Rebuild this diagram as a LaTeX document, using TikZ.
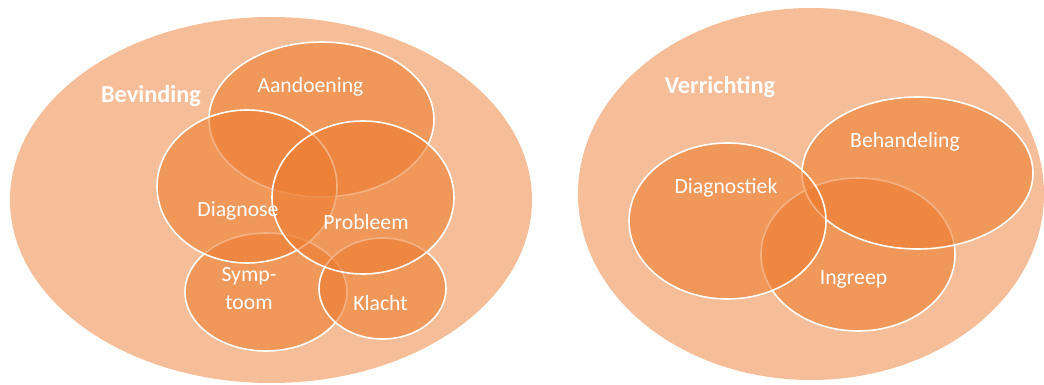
\documentclass[tikz,border=0pt]{standalone}
\usepackage{fontspec}
\setmainfont{Carlito}
\definecolor{outerfill}{RGB}{246,190,152}
\definecolor{accent}{RGB}{237,125,49}
\tikzset{
  outer/.style={ellipse, fill=outerfill, inner sep=0pt},
  inner/.style={fill=accent, fill opacity=0.6, draw=white, draw opacity=1, line width=1.6pt},
  lbl/.style={text=white, font=\fontsize{21.7}{28}\selectfont, align=center, inner sep=0pt},
  title/.style={text=white, font=\fontsize{24.3}{29}\selectfont\bfseries, inner sep=0pt},
}
\begin{document}
\begin{tikzpicture}[x=1pt,y=-1pt]
\useasboundingbox (0,0) rectangle (1044,385);
% outer ellipses
\fill[outerfill] (271,200) ellipse [x radius=261, y radius=183];
\fill[outerfill] (811,194) ellipse [x radius=233, y radius=186];
% left inner ellipses
\path[inner] (321.5,119.5) ellipse [x radius=112.5, y radius=77.5];
\path[inner] (266,292) ellipse [x radius=81, y radius=59];
\path[inner] (382.5,288.5) ellipse [x radius=63.5, y radius=50.5];
\path[inner] (247,186.5) ellipse [x radius=90, y radius=76.5];
\path[inner] (363,197.5) ellipse [x radius=91, y radius=76.5];
% right inner ellipses
\path[inner] (858,254.5) ellipse [x radius=97, y radius=76.5];
\path[inner] (917.5,173) ellipse [x radius=115.5, y radius=76];
\path[inner] (727.5,221) ellipse [x radius=98.5, y radius=78];
% labels
\node[title] (bev) at (151,96) {Bevinding};
\node[title] (ver) at (720,87) {Verrichting};
\node[lbl] (aan) at (310.5,87) {Aandoening};
\node[lbl] (dia) at (238,211) {Diagnose};
\node[lbl] (pro) at (366,222) {Probleem};
\node[lbl] (sym) at (249,289) {Symp-\\toom};
\node[lbl] (kla) at (380.5,303) {Klacht};
\node[lbl] (beh) at (905,142) {Behandeling};
\node[lbl] (dst) at (726,188) {Diagnostiek};
\node[lbl] (ing) at (853.5,279) {Ingreep};
\end{tikzpicture}
\end{document}
